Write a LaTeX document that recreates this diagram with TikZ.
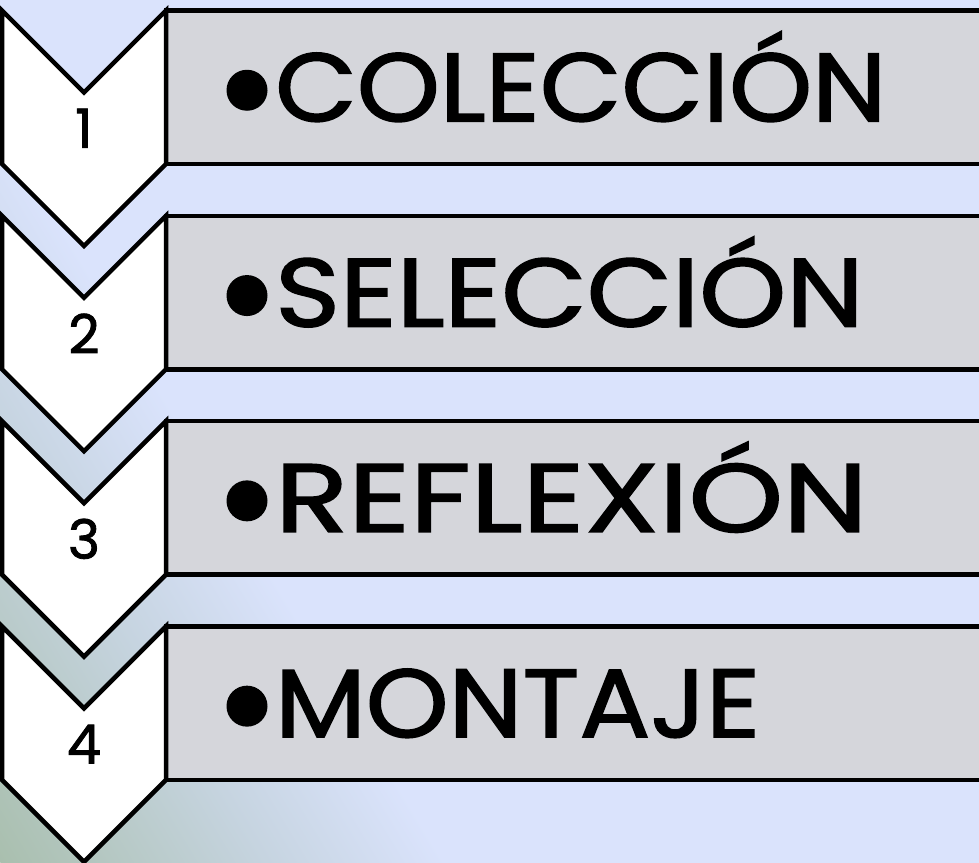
\documentclass[tikz,border=0pt]{standalone}
\usepackage{fontspec}
\setmainfont{Poppins}
\newfontfamily\chalkfont{Poppins}[FakeBold=1.6]
\definecolor{lav}{HTML}{DAE3FC}
\definecolor{gA}{HTML}{A9BFAE}
\definecolor{gB}{HTML}{C6D4E0}
\definecolor{boxgray}{HTML}{D5D6DB}
\pgfdeclarehorizontalshading{bgshade}{3000bp}{color(0bp)=(gA); color(228bp)=(gB); color(380bp)=(lav); color(1300bp)=(lav)}
\tikzset{
 rectbox/.style={draw=black, line width=4.5pt, fill=boxgray, minimum width=840pt, minimum height=153.5pt, inner sep=0pt, outer sep=0pt, anchor=north west},
 chev/.style={draw=black, line width=4.5pt, fill=white, line join=miter},
 steptext/.style={font=\chalkfont\fontsize{97}{97}\selectfont, anchor=base west, inner sep=0pt},
 numtext/.style={font=\chalkfont\fontsize{54}{54}\selectfont, inner sep=0pt},
 bulletdot/.style={circle, fill=black, minimum size=41pt, inner sep=0pt},
}
\begin{document}
\begin{tikzpicture}[x=1pt,y=-1pt]
\useasboundingbox (0,0) rectangle (979,862);
\clip (0,0) rectangle (979,862);
\fill[lav] (0,0) rectangle (979,862);
% background gradient from lower-left corner
\node[inner sep=0pt, outer sep=0pt, anchor=west, rotate=31.1] (bg) at (0,862) {\pgfuseshading{bgshade}};
\foreach \i/\txt/\sx in {0/COLECCIÓN/1.09,1/SELECCIÓN/1.14,2/REFLEXIÓN/1.24,3/MONTAJE/1.085}{
  \pgfmathsetmacro\tp{10.5+\i*205.3}
  \pgfmathsetmacro\bt{164+\i*205.3}
  \pgfmathsetmacro\nt{\tp+82}
  \pgfmathsetmacro\tip{\bt+82}
  \pgfmathsetmacro\mid{(\tp+\bt)/2}
  \pgfmathsetmacro\nm{(\nt+\bt)/2}
  \node[rectbox] (box\i) at (166,\tp) {};
  \draw[chev] (2,\tp) -- (84,\nt) -- (166,\tp) -- (166,\bt) -- (84,\tip) -- (2,\bt) -- cycle;
  \node[numtext] (num\i) at (84,\nm) {\the\numexpr\i+1\relax};
  \node[bulletdot] (dot\i) at (247,{\mid+3}) {};
  \node[steptext] (txt\i) at (275,{\mid+34}) {\scalebox{\sx}[1]{\txt}};
}
\end{tikzpicture}
\end{document}
